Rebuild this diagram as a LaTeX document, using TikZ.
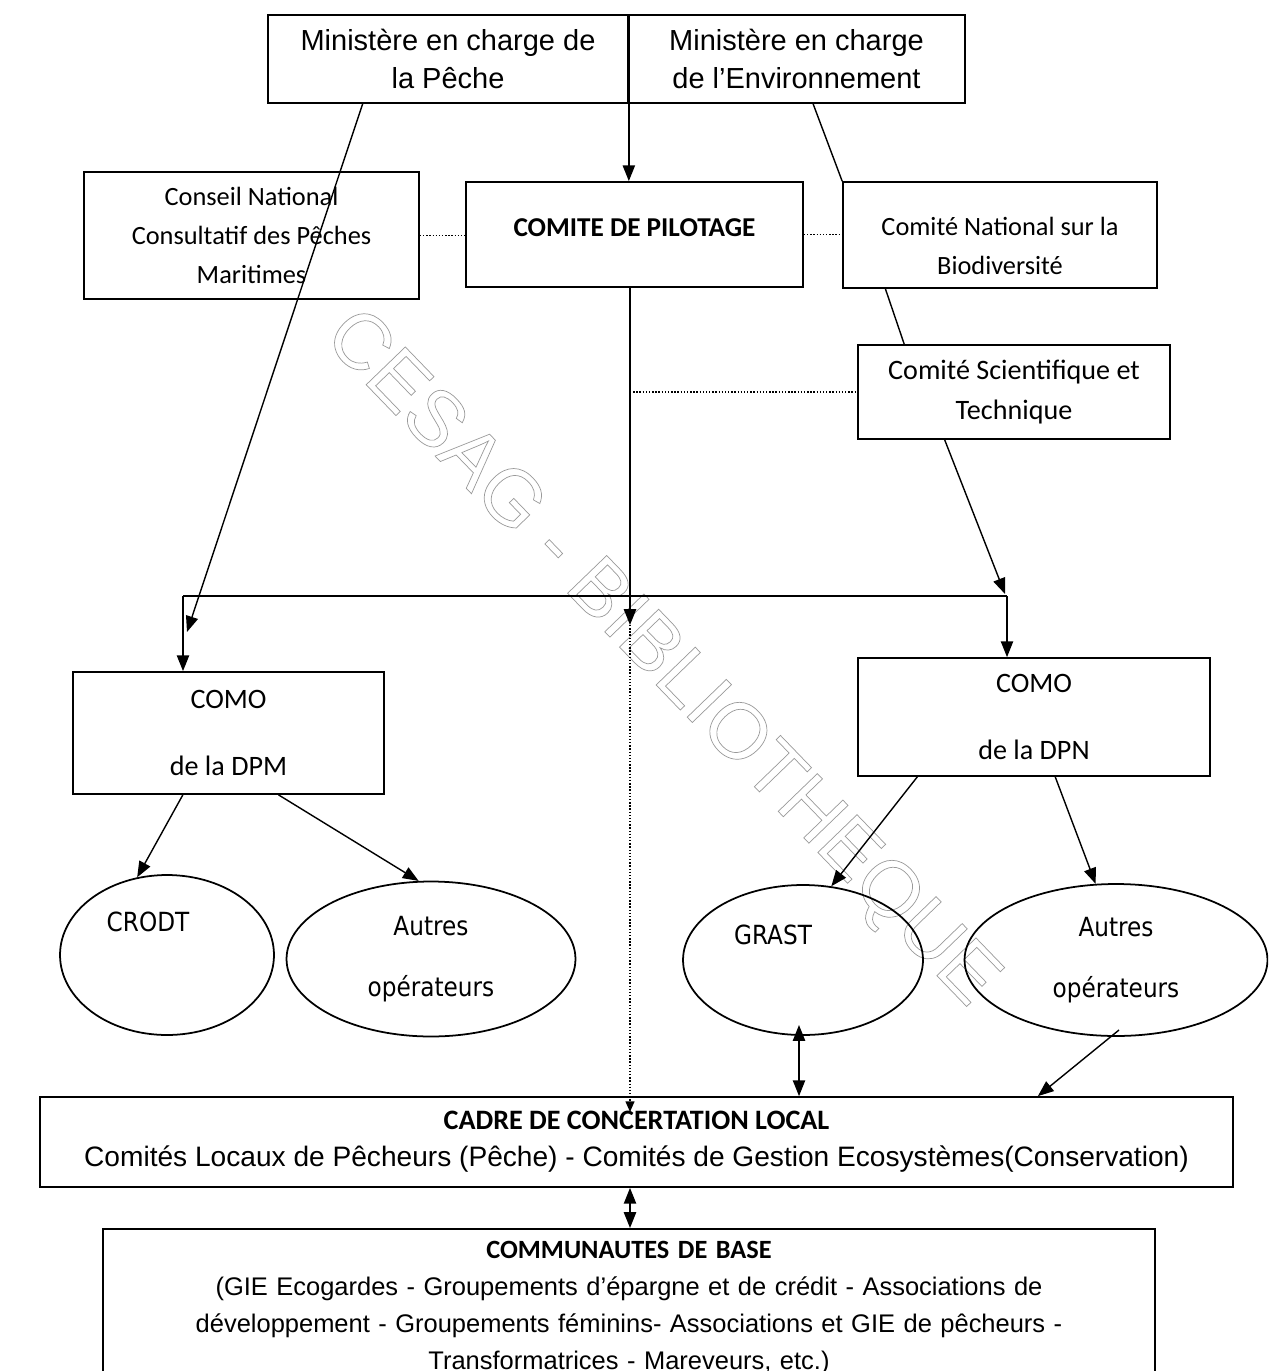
\documentclass[tikz,border=0pt]{standalone}
\usepackage{fontspec}
\setmainfont{Liberation Sans}
\newfontfamily\calib{Carlito}
\newfontfamily\dejac[FakeStretch=0.88]{DejaVu Sans}
\usetikzlibrary{arrows.meta,calc,shapes.geometric}
\tikzset{
  box/.style={draw,line width=1pt,align=center,inner sep=2pt},
  oval/.style={draw,line width=1pt,ellipse,inner sep=0pt,align=center,font=\dejac\fontsize{15}{19}\selectfont},
  arr/.style={-{Triangle[length=9pt,width=7pt]},line width=0.8pt},
  dblarr/.style={{Triangle[length=9pt,width=7pt]}-{Triangle[length=9pt,width=7pt]},line width=0.8pt},
  link/.style={densely dotted,line width=0.8pt},
  ministry/.style={box,minimum height=1.76cm,font=\fontsize{16.5}{21.5}\selectfont},
  comite/.style={box,font=\calib\fontsize{15}{22}\selectfont},
  como/.style={box,font=\calib\fontsize{16}{19}\selectfont}
}

\begin{document}
\begin{tikzpicture}[x=0.02cm,y=-0.02cm]
\useasboundingbox (0,0) rectangle (1268,1371);
\clip (0,0) rectangle (1268,1371);

\node[rotate=-46,text=black!40,font=\fontsize{45}{45}\selectfont] (stamp) at (660,660) {\special{pdf:literal direct 1 Tr 0.4 w}CESAG - BIBLIOTHEQUE\special{pdf:literal direct 0 Tr}};

\node[ministry,minimum width=7.2cm] (minPeche) at (448,59) {Ministère en charge de\\la Pêche};
\node[ministry,minimum width=6.74cm] (minEnv) at (796.5,59) {Ministère en charge\\de l’Environnement};

\node[comite,minimum width=6.7cm,minimum height=2.54cm] (cnpm) at (251.5,235.5) {Conseil National\\Consultatif des Pêches\\Maritimes};
\node[comite,minimum width=6.74cm,minimum height=2.1cm,text height=0.4cm,text depth=0.32cm,font=\calib\bfseries\fontsize{15.5}{19}\selectfont] (pilot) at (634.5,234.5) {COMITE DE PILOTAGE};
\node[comite,minimum width=6.28cm,minimum height=2.12cm,label={[comite,draw=none,yshift=-0.22cm]center:{Comité National sur la\\Biodiversité}}] (cnb) at (1000,235) {};
\node[comite,minimum width=6.24cm,minimum height=1.88cm,font=\calib\fontsize{16}{22.5}\selectfont] (cst) at (1014,392) {Comité Scientifique et\\Technique};

\node[como,minimum width=6.22cm,minimum height=2.44cm] (comoDPM) at (228.5,733) {COMO\\[19pt]de la DPM};
\node[como,minimum width=7.04cm,minimum height=2.36cm] (comoDPN) at (1034,717) {COMO\\[19pt]de la DPN};

\node[oval,minimum width=4.28cm,minimum height=3.2cm,label={[oval,draw=none,xshift=-0.38cm,yshift=0.66cm]center:CRODT}] (crodt) at (167,955) {};
\node[oval,minimum width=5.78cm,minimum height=3.1cm] (autresA) at (431,959) {Autres\\[16pt]opérateurs};
\node[oval,minimum width=4.8cm,minimum height=3cm,label={[oval,draw=none,xshift=-0.6cm,yshift=0.5cm]center:GRAST}] (grast) at (803,960) {};
\node[oval,minimum width=6.06cm,minimum height=3.04cm] (autresB) at (1116,960) {Autres\\[16pt]opérateurs};

\node[box,minimum width=23.86cm,minimum height=1.8cm,font=\fontsize{16}{21}\selectfont] (cadre) at (636.5,1142) {{\calib\bfseries CADRE DE CONCERTATION LOCAL}\\Comités Locaux de Pêcheurs (Pêche) - Comités de Gestion Ecosystèmes(Conservation)};
\node[box,anchor=north,text width=21.04cm,inner xsep=0pt,inner ysep=7pt,font=\fontsize{14.5}{21}\selectfont] (comm) at (629,1228) {{\calib\bfseries\fontsize{15}{17}\selectfont COMMUNAUTES DE BASE}\\(GIE Ecogardes - Groupements d’épargne et de crédit - Associations de\\développement - Groupements féminins- Associations et GIE de pêcheurs -\\Transformatrices - Mareveurs, etc.)\\[30pt]};

\coordinate (busL) at (183,596);
\coordinate (busR) at (1007,596);
\coordinate (midTip) at (630,625);
\coordinate (leftTip) at (187,632);
\coordinate (rightTip) at (1005,594);
\coordinate (grastFoot) at (799,1025);
\coordinate (autresFoot) at (1119,1030);

\draw[arr] (minPeche.north east) -- (minPeche.north east |- pilot.north);
\draw[line width=0.8pt] (busL) -- (busR);
\draw[arr] ($(minPeche.south west)!0.264!(minPeche.south east)$) -- (leftTip);
\draw[line width=0.8pt] ($(minEnv.south west)!0.549!(minEnv.south east)$) -- (cnb.north west);
\draw[line width=0.8pt] ($(cnb.south west)!0.137!(cnb.south east)$) -- ($(cst.north west)!0.15!(cst.north east)$);
\draw[arr] ($(cst.south west)!0.279!(cst.south east)$) -- (rightTip);
\draw[arr] (busL) -- (busL |- comoDPM.north);
\draw[arr] (busR) -- (busR |- comoDPN.north);
\draw[arr] (pilot.south -| midTip) -- (midTip);
\draw[link,-{Triangle[length=6pt,width=5pt]}] (midTip) -- ++(0,487);

\draw[link] (cnpm.east) -- (cnpm.east -| pilot.west);
\draw[link] (pilot.east) -- (pilot.east -| cnb.west);
\draw[link] (cst.west -| midTip) -- (cst.west);

\draw[arr] ($(comoDPM.south west)!0.354!(comoDPM.south east)$) -- (crodt.111);
\draw[arr] ($(comoDPM.south west)!0.66!(comoDPM.south east)$) -- (autresA.99);
\draw[arr] ($(comoDPN.south west)!0.17!(comoDPN.south east)$) -- (grast.69);
\draw[arr] ($(comoDPN.south west)!0.56!(comoDPN.south east)$) -- (autresB.105);

\draw[dblarr] (grastFoot) -- (grastFoot |- cadre.north);
\draw[arr] (autresFoot) -- ($(cadre.north west)!0.836!(cadre.north east)$);
\draw[dblarr] (cadre.south -| midTip) -- (comm.north -| midTip);

\end{tikzpicture}
\end{document}
